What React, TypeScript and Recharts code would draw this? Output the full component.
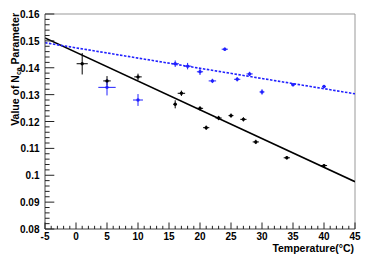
import React from 'react';
import { ComposedChart, XAxis, YAxis, Scatter, ErrorBar, Line, ReferenceLine } from 'recharts';

// Temperature (°C) and N_ca values
const blackTemps = [1, 5, 10, 16, 17, 20, 21, 23, 25, 27, 29, 34, 40];
const blackValues = [0.1415, 0.1351, 0.1366, 0.1264, 0.1305, 0.1249, 0.1177, 0.1213, 0.1222, 0.1208, 0.1124, 0.1065, 0.1036];
const blackTempErr = [0.9, 0.6, 0.6, 0.3, 0.6, 0.5, 0.5, 0.5, 0.4, 0.5, 0.5, 0.5, 0.5];
const blackValueErr = [0.004, 0.0018, 0.0012, 0.0015, 0.001, 0.0008, 0.0008, 0.0008, 0.0008, 0.0008, 0.0008, 0.0006, 0.0006];

const blueTemps = [5, 10, 16, 18, 20, 22, 24, 26, 28, 30, 35, 40];
const blueValues = [0.1327, 0.128, 0.1415, 0.1406, 0.1385, 0.1351, 0.1469, 0.1357, 0.1377, 0.131, 0.1337, 0.133];
const blueTempErr = [1.4, 0.8, 0.6, 0.6, 0.5, 0.6, 0.5, 0.5, 0.5, 0.4, 0.3, 0.3];
const blueValueErr = [0.003, 0.0022, 0.0012, 0.0012, 0.0012, 0.0008, 0.0006, 0.0008, 0.0008, 0.001, 0.0006, 0.0006];

// linear fits (end points)
const fitTemps = [-5, 45];
const blackFitValues = [0.1511, 0.0976];
const blueFitValues = [0.1493, 0.1303];

const xMajorTicks = [-5, 0, 5, 10, 15, 20, 25, 30, 35, 40, 45];
const yMajorTicks = [0.08, 0.09, 0.1, 0.11, 0.12, 0.13, 0.14, 0.15, 0.16];

const BLUE = '#2020ff';
const FONT = '"Liberation Sans", Arial, sans-serif';

const blackPoints = blackTemps.map((t, i) => ({ t, v: blackValues[i], et: blackTempErr[i], ev: blackValueErr[i] }));
const bluePoints = blueTemps.map((t, i) => ({ t, v: blueValues[i], et: blueTempErr[i], ev: blueValueErr[i] }));
const blackFit = fitTemps.map((t, i) => ({ t, v: blackFitValues[i] }));
const blueFit = fitTemps.map((t, i) => ({ t, v: blueFitValues[i] }));

// minor ticks: 5 divisions between majors
const xTicks: number[] = [];
for (let i = 0; i < xMajorTicks.length - 1; i++) {
  for (let k = 0; k < 5; k++) xTicks.push(xMajorTicks[i] + k);
}
xTicks.push(45);
const yTicks: number[] = [];
for (let i = 0; i < yMajorTicks.length - 1; i++) {
  for (let k = 0; k < 5; k++) yTicks.push(Number((yMajorTicks[i] + k * 0.002).toFixed(3)));
}
yTicks.push(0.16);

const XTick = (props: any) => {
  const { x, y, payload } = props;
  const major = xMajorTicks.includes(payload.value);
  return (
    <g>
      <line x1={x} y1={y} x2={x} y2={y - (major ? 6.5 : 3.2)} stroke="#222" strokeWidth={1} />
      {major && (
        <text x={x} y={y + 11} textAnchor="middle" fontSize={10} fontWeight="bold" fontFamily={FONT} fill="#000">
          {payload.value}
        </text>
      )}
    </g>
  );
};

const YTick = (props: any) => {
  const { x, y, payload } = props;
  const major = yMajorTicks.some(m => Math.abs(m - payload.value) < 1e-6);
  return (
    <g>
      <line x1={x} y1={y} x2={x + (major ? 9.3 : 4.6)} y2={y} stroke="#222" strokeWidth={1} />
      {major && (
        <text x={x - 5.5} y={y + 4} textAnchor="end" fontSize={10} fontWeight="bold" fontFamily={FONT} fill="#000">
          {String(Number(payload.value.toFixed(2)))}
        </text>
      )}
    </g>
  );
};

const dot = (color: string) => (props: any) => (
  <circle cx={props.cx} cy={props.cy} r={1.7} fill={color} />
);

export default function App() {
  return (
    <div style={{ position: 'absolute', left: 0, top: 0, width: 374, height: 255, background: '#fff' }}>
      <ComposedChart width={374} height={255} margin={{ top: 14, right: 19, bottom: 0, left: 0 }}>
        <XAxis
          type="number"
          dataKey="t"
          domain={[-5, 45]}
          ticks={xTicks}
          interval={0}
          allowDataOverflow
          height={26}
          tickSize={0}
          tickMargin={0}
          tickLine={false}
          axisLine={{ stroke: '#444', strokeWidth: 1 }}
          tick={<XTick />}
        />
        <YAxis
          type="number"
          dataKey="v"
          domain={[0.08, 0.16]}
          ticks={yTicks}
          interval={0}
          allowDataOverflow
          width={45}
          tickSize={0}
          tickMargin={0}
          tickLine={false}
          axisLine={{ stroke: '#444', strokeWidth: 1 }}
          tick={<YTick />}
        />
        <ReferenceLine y={0.16} stroke="#999" strokeWidth={1} />
        <ReferenceLine x={45} stroke="#999" strokeWidth={1} />
        <Scatter data={blackPoints} fill="#000" shape={dot('#000')} isAnimationActive={false}>
          <ErrorBar dataKey="et" direction="x" width={0} stroke="#000" strokeWidth={1} />
          <ErrorBar dataKey="ev" direction="y" width={0} stroke="#000" strokeWidth={1} />
        </Scatter>
        <Scatter data={bluePoints} fill={BLUE} shape={dot(BLUE)} isAnimationActive={false}>
          <ErrorBar dataKey="et" direction="x" width={0} stroke={BLUE} strokeWidth={1} />
          <ErrorBar dataKey="ev" direction="y" width={0} stroke={BLUE} strokeWidth={1} />
        </Scatter>
        <Line data={blackFit} dataKey="v" stroke="#000" strokeWidth={1.5} dot={false} isAnimationActive={false} />
        <Line data={blueFit} dataKey="v" stroke={BLUE} strokeWidth={1.6} strokeDasharray="2.5 1.5" dot={false} isAnimationActive={false} />
      </ComposedChart>
      <svg width={374} height={255} style={{ position: 'absolute', left: 0, top: 0, pointerEvents: 'none' }}>
        <text
          transform="translate(18.5,13) rotate(-90)"
          textAnchor="end"
          fontSize={10.5}
          fontWeight="bold"
          fontFamily={FONT}
          fill="#000"
        >
          Value of N<tspan fontSize={7} dy={2}>ca</tspan><tspan dy={-2}> Parameter</tspan>
        </text>
        <text x={354} y={252} textAnchor="end" fontSize={10.5} fontWeight="bold" fontFamily={FONT} fill="#000">
          Temperature(°C)
        </text>
      </svg>
    </div>
  );
}
